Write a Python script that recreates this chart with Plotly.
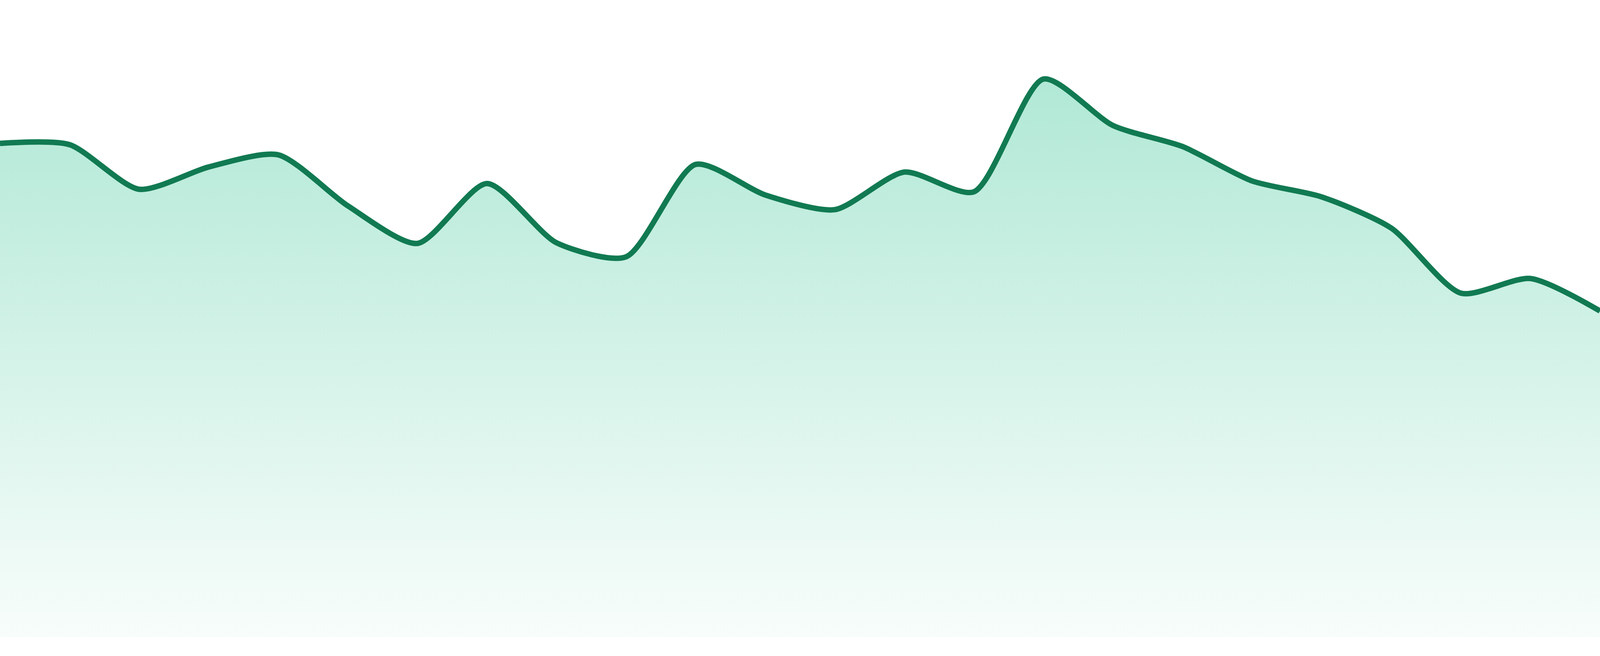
import plotly.graph_objects as go

# daily values (24 points, edge to edge)
days = list(range(1, 25))
values = [77.5, 77.3, 70.3, 73.8, 75.7, 67.7, 61.8, 71.2, 61.9, 59.7, 74.2, 69.4,
          67.1, 73.0, 69.9, 87.6, 80.3, 77.0, 71.6, 69.1, 64.2, 54.0, 56.3, 51.2]

LINE_COLOR = "#117a52"
Y_MAX = 100
Y_MIN = -Y_MAX * 48 / 1632  # white strip under the area

fig = go.Figure()
fig.add_trace(go.Scatter(
    x=days, y=values,
    mode="lines",
    line=dict(color=LINE_COLOR, width=14, shape="spline", smoothing=0.7),
    fill="tozeroy",
    fillgradient=dict(
        type="vertical",
        start=0, stop=Y_MAX,
        colorscale=[[0, "rgba(16,185,129,0.03)"], [1, "rgba(16,185,129,0.37)"]],
    ),
    hoverinfo="skip",
))

fig.update_layout(
    autosize=True,
    margin=dict(l=0, r=0, t=0, b=0),
    paper_bgcolor="white", plot_bgcolor="white",
    showlegend=False,
    xaxis=dict(range=[1, 24], visible=False, fixedrange=True),
    yaxis=dict(range=[Y_MIN, Y_MAX], visible=False, fixedrange=True),
)

# fill the whole window, flush to its edges
fig.write_html(
    "out.html",
    default_width="100vw", default_height="100vh",
    config={"responsive": True, "displayModeBar": False},
    post_script=("document.body.style.margin='0';"
                 "document.body.style.overflow='hidden';"
                 "Plotly.Plots.resize(document.getElementById('{plot_id}'));"),
)
